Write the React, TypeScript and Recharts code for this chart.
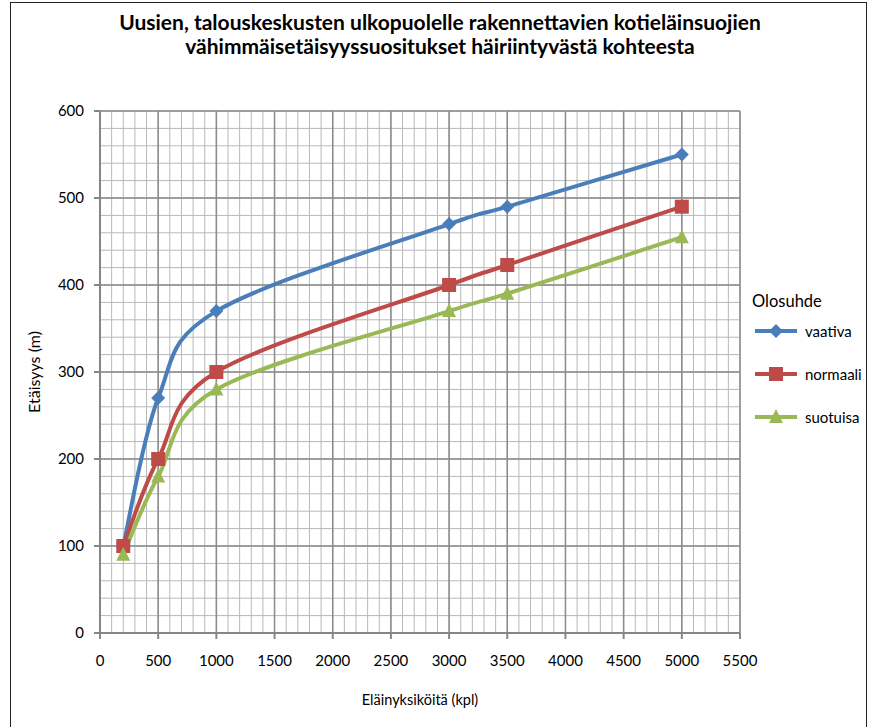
import React from 'react';
import { LineChart, Line, XAxis, YAxis, CartesianGrid } from 'recharts';

const X_VALUES = [200, 500, 1000, 3000, 3500, 5000];
const VAATIVA = [100, 270, 370, 470, 490, 550];
const NORMAALI = [100, 200, 300, 400, 423, 490];
const SUOTUISA = [90, 180, 280, 370, 390, 455];

const X_TICKS = [0, 500, 1000, 1500, 2000, 2500, 3000, 3500, 4000, 4500, 5000, 5500];
const Y_TICKS = [0, 100, 200, 300, 400, 500, 600];
const X_MINOR = Array.from({ length: 56 }, (_, i) => i * 100);
const Y_MINOR = Array.from({ length: 31 }, (_, i) => i * 20);

const TITLE_1 = 'Uusien, talouskeskusten ulkopuolelle rakennettavien kotieläinsuojien';
const TITLE_2 = 'vähimmäisetäisyyssuositukset häiriintyvästä kohteesta';
const X_TITLE = 'Eläinyksiköitä (kpl)';
const Y_TITLE = 'Etäisyys (m)';
const LEGEND_TITLE = 'Olosuhde';

const BLUE = '#4A7EBB';
const RED = '#BE4B48';
const GREEN = '#98B954';
const FONT = 'Lato, "DejaVu Sans", sans-serif';

const data = X_VALUES.map((x, i) => ({
  x,
  vaativa: VAATIVA[i],
  normaali: NORMAALI[i],
  suotuisa: SUOTUISA[i],
}));

// Excel-like smoothed line (catmull-rom style bezier)
const excelSmooth = (context: any) => {
  let pts: number[][] = [];
  return {
    areaStart() {},
    areaEnd() {},
    lineStart() {
      pts = [];
    },
    point(x: number, y: number) {
      pts.push([+x, +y]);
    },
    lineEnd() {
      const n = pts.length;
      if (!n) return;
      context.moveTo(pts[0][0], pts[0][1]);
      for (let i = 0; i < n - 1; i++) {
        const p0 = pts[i === 0 ? 0 : i - 1];
        const p1 = pts[i];
        const p2 = pts[i + 1];
        const p3 = pts[i + 2 < n ? i + 2 : n - 1];
        context.bezierCurveTo(
          p1[0] + (p2[0] - p0[0]) / 6,
          p1[1] + (p2[1] - p0[1]) / 6,
          p2[0] - (p3[0] - p1[0]) / 6,
          p2[1] - (p3[1] - p1[1]) / 6,
          p2[0],
          p2[1],
        );
      }
    },
  };
};

const Diamond = ({ cx, cy }: any) => (
  <path d={`M${cx},${cy - 7}L${cx + 7},${cy}L${cx},${cy + 7}L${cx - 7},${cy}Z`} fill={BLUE} />
);
const Square = ({ cx, cy }: any) => <rect x={cx - 7} y={cy - 7} width={14} height={14} fill={RED} />;
const Triangle = ({ cx, cy }: any) => (
  <path d={`M${cx},${cy - 8}L${cx + 7},${cy + 6}L${cx - 7},${cy + 6}Z`} fill={GREEN} />
);

const legendItems = [
  { name: 'vaativa', color: BLUE, shape: 'diamond' },
  { name: 'normaali', color: RED, shape: 'square' },
  { name: 'suotuisa', color: GREEN, shape: 'triangle' },
];

function LegendIcon({ color, shape }: { color: string; shape: string }) {
  return (
    <svg width={42} height={16} style={{ display: 'block' }}>
      <line x1={0} y1={8} x2={42} y2={8} stroke={color} strokeWidth={4} />
      {shape === 'diamond' && <Diamond cx={21} cy={8} />}
      {shape === 'square' && <Square cx={21} cy={8} />}
      {shape === 'triangle' && <Triangle cx={21} cy={8} />}
    </svg>
  );
}

export default function App() {
  return (
    <div style={{ position: 'absolute', left: 0, top: 0, width: 870, height: 727, background: '#fff', fontFamily: FONT, overflow: 'hidden' }}>
      <div style={{ position: 'absolute', left: 10, top: 2, width: 855, height: 740, borderLeft: '1px solid #222', borderTop: '1px solid #222', borderRight: '1px solid #222' }} />
      <div style={{ position: 'absolute', left: 0, width: 880, top: 10, textAlign: 'center', fontWeight: 700, fontSize: 21, lineHeight: '24px', color: '#000' }}>
        <div>{TITLE_1}</div>
        <div>{TITLE_2}</div>
      </div>
      <LineChart
        width={870}
        height={727}
        data={data}
        margin={{ top: 111, right: 130, left: 40, bottom: 64 }}
        style={{ position: 'absolute', left: 0, top: 0 }}
      >
        <CartesianGrid verticalValues={X_MINOR} horizontalValues={Y_MINOR} stroke="#b8b8b8" strokeWidth={1} />
        <CartesianGrid verticalValues={X_TICKS} horizontalValues={Y_TICKS} stroke="#8a8a8a" strokeWidth={1.5} />
        <XAxis
          type="number"
          dataKey="x"
          domain={[0, 5500]}
          ticks={X_TICKS}
          interval={0}
          height={30}
          stroke="#868686"
          strokeWidth={2}
          tickSize={6}
          tickMargin={16}
          tick={{ fill: '#000', fontSize: 15, fontFamily: FONT }}
          label={{ value: X_TITLE, position: 'insideBottom', offset: -42, fill: '#000', fontSize: 14.5, fontFamily: FONT }}
        />
        <YAxis
          type="number"
          domain={[0, 600]}
          ticks={Y_TICKS}
          interval={0}
          width={60}
          stroke="#868686"
          strokeWidth={2}
          tickSize={6}
          tickMargin={10}
          tick={{ fill: '#000', fontSize: 15, fontFamily: FONT }}
          label={{ value: Y_TITLE, angle: -90, position: 'insideLeft', offset: -6, fill: '#000', fontSize: 16, fontFamily: FONT, style: { textAnchor: 'middle' } }}
        />
        <Line type={excelSmooth as any} dataKey="vaativa" stroke={BLUE} strokeWidth={4} dot={(p: any) => <Diamond key={p.index} {...p} />} activeDot={false} isAnimationActive={false} />
        <Line type={excelSmooth as any} dataKey="normaali" stroke={RED} strokeWidth={4} dot={(p: any) => <Square key={p.index} {...p} />} activeDot={false} isAnimationActive={false} />
        <Line type={excelSmooth as any} dataKey="suotuisa" stroke={GREEN} strokeWidth={4} dot={(p: any) => <Triangle key={p.index} {...p} />} activeDot={false} isAnimationActive={false} />
      </LineChart>
      <div style={{ position: 'absolute', left: 752, top: 291, fontSize: 16.5, color: '#000' }}>{LEGEND_TITLE}</div>
      {legendItems.map((item, i) => (
        <div key={item.name} style={{ position: 'absolute', left: 755, top: 322 + i * 43, display: 'flex', alignItems: 'center', fontSize: 15, color: '#000' }}>
          <LegendIcon color={item.color} shape={item.shape} />
          <span style={{ marginLeft: 8 }}>{item.name}</span>
        </div>
      ))}
    </div>
  );
}
